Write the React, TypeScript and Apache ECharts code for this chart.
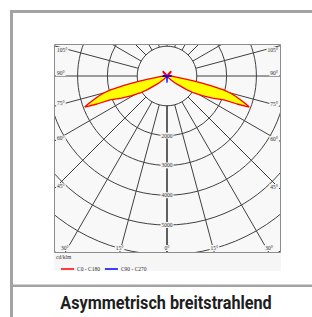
import React, { useEffect, useRef } from "react";
import * as echarts from "echarts";

// Luminous intensity (cd/klm), by gamma angle (0° = straight down)
const gammaC0C180 = [0, 15, 30, 40, 45, 50, 55, 57.8, 61, 64, 67.2, 68.2, 69.3, 70.5, 72, 73.5, 75, 76.2, 77.5, 78.5, 79.5, 81, 83, 86, 90, 105, 120, 135, 142, 150, 165, 180];
const c180Left = [20, 20, 30, 80, 180, 400, 800, 1070, 1350, 1700, 2075, 2530, 2950, 2800, 2600, 2400, 2200, 1950, 1500, 1200, 900, 600, 350, 200, 100, 50, 70, 190, 210, 60, 20, 10];
const c0Right = [20, 20, 30, 80, 180, 400, 800, 1070, 1350, 1700, 2075, 2530, 2950, 2800, 2600, 2400, 2200, 1950, 1500, 1200, 900, 600, 350, 200, 100, 50, 70, 190, 210, 60, 20, 10];

const gammaC90C270 = [0, 5, 15, 40, 70, 85, 90, 95, 110, 180];
const c90Left = [230, 60, 25, 20, 40, 160, 170, 120, 20, 0];
const c270Right = [230, 60, 25, 20, 40, 160, 170, 120, 20, 0];

const angleTickLabels = [0, 15, 30, 45, 60, 75, 90, 105];
const radiusTickLabels = [2000, 3000, 4000, 5000];
const legendNames = ["C0 - C180", "C90 - C270"];
const unitLabel = "cd/klm";
const titleText = "Asymmetrisch breitstrahlend";

const W = 312;
const H = 317;
const BOX = { x0: 54, y0: 44, x1: 281, y1: 253 };
const CENTER = [167, 76];
const PX_PER_1000 = 29.8;
const R_MAX = 7200;

function plane(gammas: number[], left: number[], right: number[]) {
  const pts: number[][] = [];
  gammas.forEach((g, i) => pts.push([left[i], g]));
  for (let i = gammas.length - 1; i >= 0; i--) pts.push([right[i], 360 - gammas[i]]);
  return pts;
}

export default function App() {
  const ref = useRef<HTMLDivElement>(null);
  useEffect(() => {
    if (!ref.current) return;
    const chart = echarts.init(ref.current, null, { renderer: "svg" });
    const rOuter = (R_MAX / 1000) * PX_PER_1000;
    const gridColor = "#404040";
    chart.setOption({
      animation: false,
      backgroundColor: "#ffffff",
      polar: [
        { center: CENTER, radius: [PX_PER_1000, rOuter] },
        { center: CENTER, radius: [0, rOuter] },
      ],
      angleAxis: [
        {
          polarIndex: 0,
          type: "value",
          min: 0,
          max: 360,
          interval: 15,
          startAngle: 270,
          clockwise: true,
          axisLine: { show: false },
          axisTick: { show: false },
          axisLabel: { show: false },
          splitLine: { show: true, lineStyle: { color: gridColor, width: 1 } },
        },
        { polarIndex: 1, type: "value", min: 0, max: 360, startAngle: 270, clockwise: true, show: false },
      ],
      radiusAxis: [
        {
          polarIndex: 0,
          type: "value",
          min: 1000,
          max: R_MAX,
          interval: 1000,
          axisLine: { show: true, lineStyle: { color: "#505050", width: 1.6 } },
          axisTick: { show: false },
          axisLabel: { show: false },
          splitLine: { show: true, lineStyle: { color: gridColor, width: 1 } },
        },
        { polarIndex: 1, type: "value", min: 0, max: R_MAX, show: false },
      ],
      legend: {
        left: 56,
        top: 261,
        itemWidth: 13,
        itemHeight: 1.5,
        itemGap: 5,
        z: 120,
        textStyle: { fontSize: 5.5, color: "#333", fontFamily: "Liberation Serif", padding: [0, 0, 0, -2] },
        data: [
          { name: legendNames[0], icon: "rect", itemStyle: { color: "#ff0000" } },
          { name: legendNames[1], icon: "rect", itemStyle: { color: "#0000ff" } },
        ],
      },
      series: [
        {
          name: legendNames[0],
          type: "line",
          coordinateSystem: "polar",
          polarIndex: 1,
          showSymbol: false,
          clip: false,
          color: "#ff0000",
          lineStyle: { color: "#ff0000", width: 1.3 },
          areaStyle: { color: "#ffff00", opacity: 1 },
          data: plane(gammaC0C180, c180Left, c0Right),
          z: 3,
        },
        {
          name: legendNames[1],
          type: "line",
          coordinateSystem: "polar",
          polarIndex: 1,
          showSymbol: false,
          clip: false,
          color: "#0000ff",
          lineStyle: { color: "#0000ff", width: 1.2 },
          areaStyle: { color: "#5060ff", opacity: 1 },
          data: plane(gammaC90C270, c90Left, c270Right),
          z: 4,
        },
      ],
    });

    const toPx = (v: number, a: number) => chart.convertToPixel({ seriesIndex: 0 }, [v, a]) as number[];
    const c = toPx(0, 0);
    const labelStyle = { fontSize: 5.5, fill: "#333", fontFamily: "Liberation Serif", backgroundColor: "#f4f4f4", padding: [0, 1] };
    const labels: any[] = [];
    angleTickLabels.forEach((g) => {
      [g, 360 - g].forEach((theta, side) => {
        if (g === 0 && side === 1) return;
        const p = toPx(7000, theta);
        const dx = p[0] - c[0];
        const dy = p[1] - c[1];
        const ts: number[] = [];
        if (dx < -1e-6) ts.push((BOX.x0 - c[0]) / dx);
        if (dx > 1e-6) ts.push((BOX.x1 - c[0]) / dx);
        if (dy > 1e-6) ts.push((BOX.y1 - c[1]) / dy);
        if (dy < -1e-6) ts.push((BOX.y0 - c[1]) / dy);
        const t = Math.min(...ts);
        const x = c[0] + dx * t;
        const y = c[1] + dy * t;
        const txt = g + "°";
        if (Math.abs(y - BOX.y1) < 0.5) {
          labels.push({ type: "text", z: 115, x: Math.min(Math.max(x, BOX.x0 + 8), BOX.x1 - 8), y: BOX.y1 - 2, style: { ...labelStyle, text: txt, align: "center", verticalAlign: "bottom" } });
        } else if (dx < 0) {
          labels.push({ type: "text", z: 115, x: BOX.x0 + 2, y: Math.max(y - 3, BOX.y0 + 6), style: { ...labelStyle, text: txt, align: "left", verticalAlign: "middle" } });
        } else {
          labels.push({ type: "text", z: 115, x: BOX.x1 - 2, y: Math.max(y - 3, BOX.y0 + 6), style: { ...labelStyle, text: txt, align: "right", verticalAlign: "middle" } });
        }
      });
    });
    radiusTickLabels.forEach((v) => {
      const p = toPx(v, 0);
      labels.push({ type: "text", z: 115, x: p[0], y: p[1], style: { ...labelStyle, text: String(v), align: "center", verticalAlign: "middle" } });
    });

    const frame = "#a3a3a3";
    chart.setOption({
      graphic: {
        elements: [
          { type: "rect", z: -10, shape: { x: BOX.x0, y: BOX.y0, width: BOX.x1 - BOX.x0, height: BOX.y1 - BOX.y0 }, style: { fill: "#f8f8f8" } },
          { type: "rect", z: 100, shape: { x: 0, y: 0, width: W, height: BOX.y0 }, style: { fill: "#fff" } },
          { type: "rect", z: 100, shape: { x: 0, y: 0, width: BOX.x0, height: H }, style: { fill: "#fff" } },
          { type: "rect", z: 100, shape: { x: BOX.x1, y: 0, width: W - BOX.x1, height: H }, style: { fill: "#fff" } },
          { type: "rect", z: 100, shape: { x: 0, y: BOX.y1, width: W, height: H - BOX.y1 }, style: { fill: "#fff" } },
          { type: "rect", z: 101, shape: { x: BOX.x0, y: BOX.y1, width: BOX.x1 - BOX.x0, height: 18 }, style: { fill: "#f6f6f6" } },
          { type: "rect", z: 110, shape: { x: BOX.x0 + 0.5, y: BOX.y0 + 0.5, width: BOX.x1 - BOX.x0 - 1, height: BOX.y1 - BOX.y0 - 1 }, style: { fill: "none", stroke: "#8c8c8c", lineWidth: 1 } },
          { type: "rect", z: 110, shape: { x: 10, y: 10, width: W - 10, height: 3 }, style: { fill: frame } },
          { type: "rect", z: 110, shape: { x: 10, y: 10, width: 3, height: H - 10 }, style: { fill: frame } },
          { type: "rect", z: 110, shape: { x: 10, y: 284.5, width: W - 10, height: 2.5 }, style: { fill: frame } },
          { type: "text", z: 115, x: BOX.x0 + 2, y: BOX.y1 + 4, style: { text: unitLabel, fontSize: 5.5, fill: "#333", fontFamily: "Liberation Serif", align: "left", verticalAlign: "middle" } },
          { type: "text", z: 115, x: 166, y: 303, scaleX: 0.9, style: { text: titleText, fontSize: 18, fontWeight: "bold", fill: "#1e1e1e", fontFamily: "Roboto, sans-serif", align: "center", verticalAlign: "middle" } },
          ...labels,
        ],
      },
    });
    return () => chart.dispose();
  }, []);
  return <div ref={ref} style={{ position: "fixed", left: 0, top: 0, width: W, height: H }} />;
}
